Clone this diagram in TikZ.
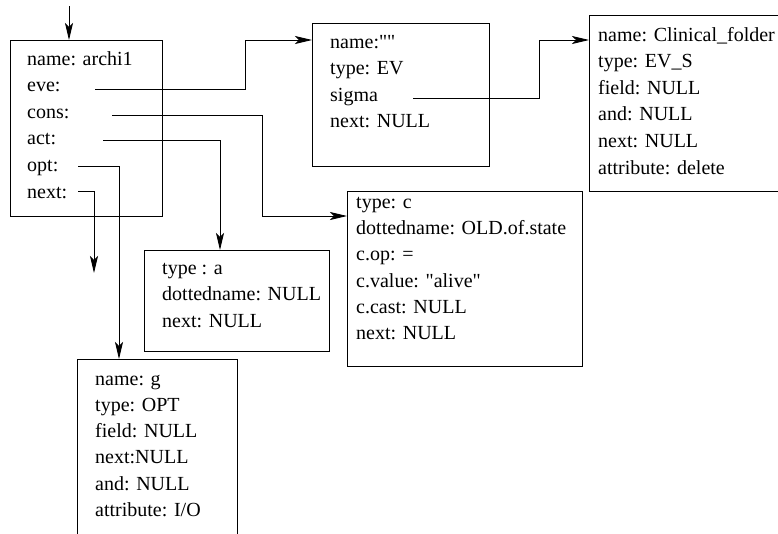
\documentclass[tikz,border=0pt]{standalone}
\usepackage{fontspec}
\setmainfont{Liberation Serif}[Ligatures=TeXOff]
\usepackage{tikz}
\usetikzlibrary{calc,arrows.meta}
\definecolor{ink}{HTML}{000000}
\tikzset{
  recbox/.style={draw=ink, line width=0.8pt, anchor=north west, inner sep=0pt},
  fld/.style={anchor=base west, inner sep=0pt, text=ink, font=\fontsize{20}{26}\selectfont},
  conn/.style={draw=ink, line width=0.8pt, -{Stealth[length=17pt,width=8pt,inset=4pt]}},
}

\begin{document}
\begin{tikzpicture}[x=1pt,y=-1pt]
\path[use as bounding box, clip] (0,0) rectangle (778,533);

\node[recbox, minimum width=152pt, minimum height=176pt] (archi) at (10,40) {};
\node[recbox, minimum width=177pt, minimum height=143pt] (ev) at (312,23) {};
\node[recbox, minimum width=230pt, minimum height=176pt] (cf) at (589,15) {};
\node[recbox, minimum width=185pt, minimum height=101pt] (acta) at (144,250) {};
\node[recbox, minimum width=235pt, minimum height=175pt] (consc) at (347,191) {};
\node[recbox, minimum width=160pt, minimum height=220pt] (optg) at (77,359) {};

\node[fld] (aname) at (27,65) {name: archi1};
\node[fld] (aeve) at (27,91.6) {eve:};
\node[fld] (acons) at (27,118.2) {cons:};
\node[fld] (aact) at (27,144.8) {act:};
\node[fld] (aopt) at (27,171.4) {opt:};
\node[fld] (anext) at (27,198) {next:};

\node[fld] (ename) at (330,48) {name:""};
\node[fld] (etype) at (330,74.6) {type: EV};
\node[fld] (esigma) at (330,101.2) {sigma};
\node[fld] (enext) at (330,127.8) {next: NULL};

\node[fld] (fname) at (598,41) {name: Clinical\_folder};
\node[fld] (ftype) at (598,67.6) {type: EV\_S};
\node[fld] (ffield) at (598,94.2) {field: NULL};
\node[fld] (fand) at (598,120.8) {and: NULL};
\node[fld] (fnext) at (598,147.4) {next: NULL};
\node[fld] (fattr) at (598,174) {attribute: delete};

\node[fld] (ttype) at (162,274.5) {type : a};
\node[fld] (tdot) at (162,300.8) {dottedname: NULL};
\node[fld] (tnext) at (162,327) {next: NULL};

\node[fld] (ctype) at (356,208.5) {type: c};
\node[fld] (cdot) at (356,234.7) {dottedname: OLD.of.state};
\node[fld] (cop) at (356,260.9) {c.op: =};
\node[fld] (cval) at (356,287.1) {c.value: "alive"};
\node[fld] (ccast) at (356,313.3) {c.cast: NULL};
\node[fld] (cnext) at (356,339.5) {next: NULL};

\node[fld] (gname) at (95,385) {name: g};
\node[fld] (gtype) at (95,411.3) {type: OPT};
\node[fld] (gfield) at (95,437.6) {field: NULL};
\node[fld] (gnext) at (95,463.9) {next:NULL};
\node[fld] (gand) at (95,490.2) {and: NULL};
\node[fld] (gattr) at (95,516.5) {attribute: I/O};

\coordinate (entry) at (69,6);
\coordinate (eveout) at (95,89.3);
\coordinate (consout) at (112,115.7);
\coordinate (actout) at (103,140.7);
\coordinate (optout) at (78,166);
\coordinate (nextout) at (78,191.7);
\coordinate (nexttip) at (94,273);
\coordinate (sigout) at (413,98);

\draw[conn] (entry) -- (entry |- archi.north);
\draw[conn] (eveout) -| (245,40) -- (ev.west |- 0,40);
\draw[conn] (consout) -| (262,216) -- (consc.west |- 0,216);
\draw[conn] (actout) -| (220,0 |- acta.north);
\draw[conn] (optout) -| (119,0 |- optg.north);
\draw[conn] (nextout) -| (nexttip);
\draw[conn] (sigout) -| (539,40) -- (cf.west |- 0,40);
\end{tikzpicture}
\end{document}
